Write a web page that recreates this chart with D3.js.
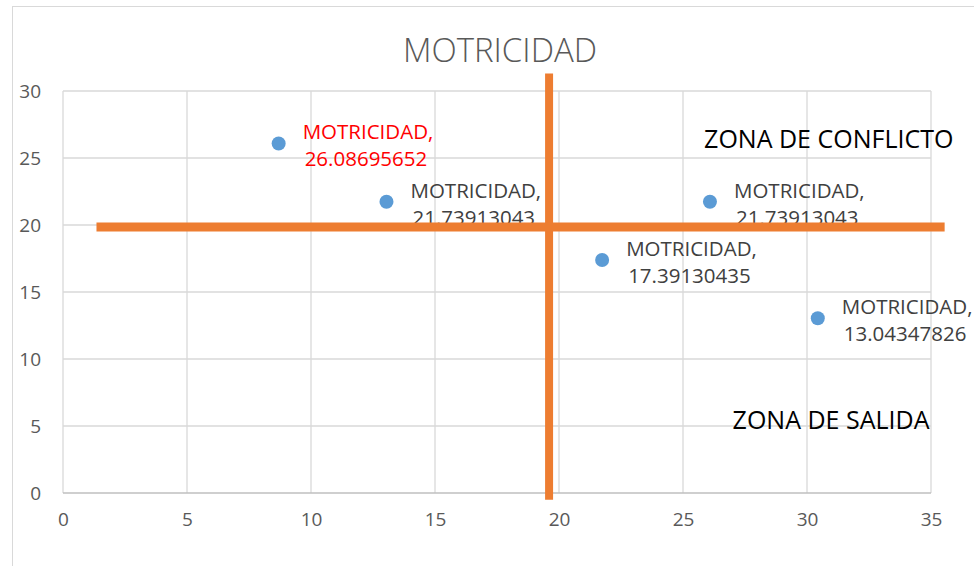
<!DOCTYPE html>
<html lang="es">
<head>
  <meta charset="utf-8" />
  <title>MOTRICIDAD</title>
  <script src="https://d3js.org/d3.v7.min.js"></script>
  <style>
    html, body { margin: 0; padding: 0; background: #fff; }
    svg { display: block; font-family: "Open Sans", sans-serif; }
  </style>
</head>
<body>
  <svg id="chart" width="974" height="566"></svg>
  <script>
    // data
    const seriesName = "MOTRICIDAD";
    const xValues = [8.695652174, 13.04347826, 21.73913043, 26.08695652, 30.43478261];
    const yValues = [26.08695652, 21.73913043, 17.39130435, 21.73913043, 13.04347826];
    const xTicks = [0, 5, 10, 15, 20, 25, 30, 35];
    const yTicks = [0, 5, 10, 15, 20, 25, 30];
    const highlighted = [0];
    // quadrant divider lines (data units)
    const vLine = { x: 19.6, y0: -0.5, y1: 31.3 };
    const hLine = { y: 19.85, x0: 1.35, x1: 35.55 };
    const zones = [
      { text: "ZONA DE CONFLICTO", x: 25.85, y: 25.75 },
      { text: "ZONA DE SALIDA", x: 27.0, y: 4.75 }
    ];

    const svg = d3.select("#chart");
    const margin = { left: 63, right: 43, top: 91, bottom: 73 };
    const W = 974, H = 566;

    const x = d3.scaleLinear().domain([0, 35]).range([margin.left, W - margin.right]);
    const y = d3.scaleLinear().domain([0, 30]).range([H - margin.bottom, margin.top]);

    // outer frame
    svg.append("rect")
      .attr("x", 12.5).attr("y", 6.5)
      .attr("width", W).attr("height", H)
      .attr("fill", "none").attr("stroke", "#d9d9d9");

    // title
    svg.append("text")
      .attr("x", 500).attr("y", 62)
      .attr("text-anchor", "middle")
      .attr("font-size", 33)
      .attr("font-weight", 300)
      .attr("fill", "#595959")
      .text(seriesName);

    // gridlines
    svg.append("g").selectAll("line").data(xTicks).enter().append("line")
      .attr("x1", d => x(d)).attr("x2", d => x(d))
      .attr("y1", y(0)).attr("y2", y(30))
      .attr("stroke", "#d9d9d9").attr("stroke-width", 1.3);
    svg.append("g").selectAll("line").data(yTicks).enter().append("line")
      .attr("x1", x(0)).attr("x2", x(35))
      .attr("y1", d => y(d)).attr("y2", d => y(d))
      .attr("stroke", d => d === 0 ? "#bfbfbf" : "#d9d9d9").attr("stroke-width", 1.3);

    // axes labels
    const xAxis = d3.axisBottom(x).tickValues(xTicks).tickSize(0).tickPadding(20);
    const gx = svg.append("g").attr("transform", `translate(0,${y(0)})`).call(xAxis);
    const yAxis = d3.axisLeft(y).tickValues(yTicks).tickSize(0).tickPadding(22);
    const gy = svg.append("g").attr("transform", `translate(${x(0)},0)`).call(yAxis);
    [gx, gy].forEach(g => {
      g.select(".domain").remove();
      g.selectAll("text").attr("font-size", 19).attr("fill", "#595959")
        .attr("font-family", "'Open Sans', sans-serif");
    });

    // points
    svg.append("g").selectAll("circle").data(xValues).enter().append("circle")
      .attr("cx", d => x(d))
      .attr("cy", (d, i) => y(yValues[i]))
      .attr("r", 7)
      .attr("fill", "#5b9bd5");

    // data labels
    const lab = svg.append("g").selectAll("text").data(xValues).enter().append("text")
      .attr("x", d => x(d) + 24)
      .attr("y", (d, i) => y(yValues[i]))
      .attr("font-size", 20.5)
      .attr("fill", (d, i) => highlighted.includes(i) ? "#ff0000" : "#404040");
    lab.append("tspan")
      .attr("x", d => x(d) + 24).attr("dy", -4)
      .text(seriesName + ",");
    lab.append("tspan")
      .attr("x", d => x(d) + 26).attr("dy", 27)
      .text((d, i) => yValues[i].toFixed(8));

    // zone annotations
    svg.append("g").selectAll("text").data(zones).enter().append("text")
      .attr("x", d => x(d.x)).attr("y", d => y(d.y))
      .attr("font-size", 25).attr("fill", "#000")
      .text(d => d.text);

    // orange divider lines
    svg.append("line")
      .attr("x1", x(hLine.x0)).attr("x2", x(hLine.x1))
      .attr("y1", y(hLine.y)).attr("y2", y(hLine.y))
      .attr("stroke", "#ed7d31").attr("stroke-width", 9);
    svg.append("line")
      .attr("x1", x(vLine.x)).attr("x2", x(vLine.x))
      .attr("y1", y(vLine.y0)).attr("y2", y(vLine.y1))
      .attr("stroke", "#ed7d31").attr("stroke-width", 8);
  </script>
</body>
</html>
